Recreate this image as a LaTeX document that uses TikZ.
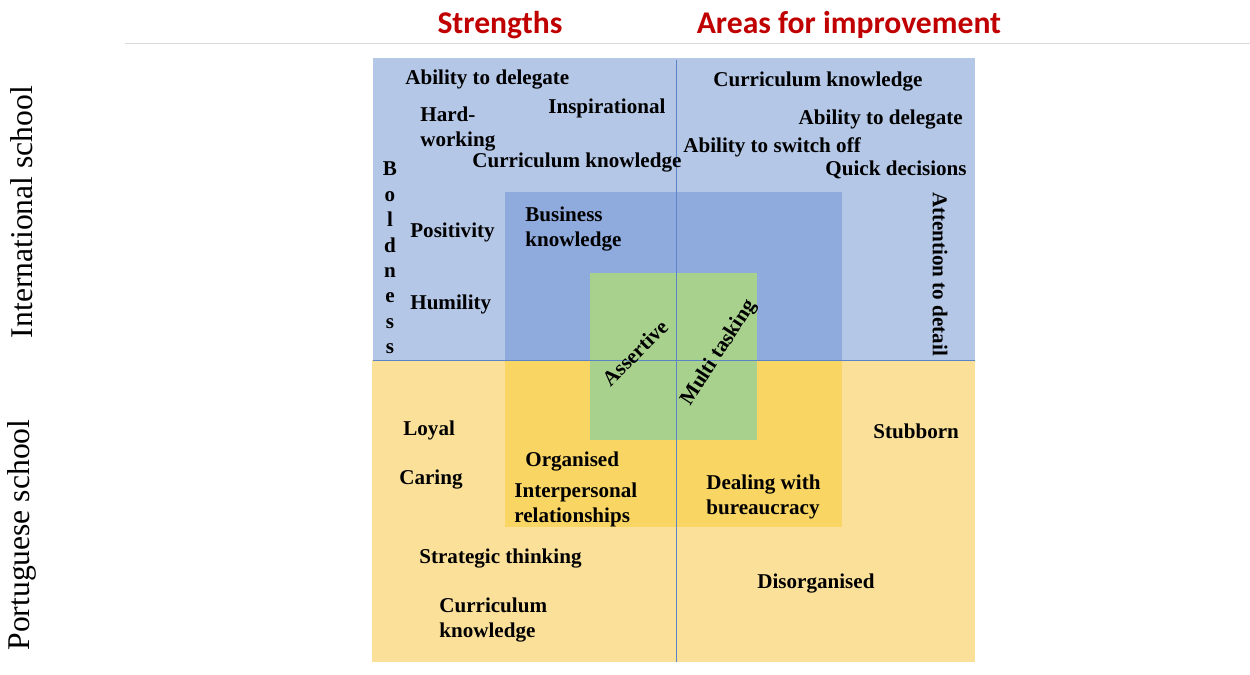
\documentclass[tikz,border=0pt]{standalone}
\usepackage{fontspec}
\setmainfont{Liberation Serif}
\newfontfamily\headfont{Carlito}
\definecolor{paleblue}{HTML}{B4C7E7}
\definecolor{midblue}{HTML}{8FAADC}
\definecolor{paleyellow}{HTML}{FBE09A}
\definecolor{midyellow}{HTML}{F9D664}
\definecolor{softgreen}{HTML}{A9D18E}
\definecolor{axisblue}{HTML}{5B84C8}
\definecolor{headred}{HTML}{C00000}

\begin{document}
\begin{tikzpicture}[x=0.02cm,y=-0.02cm,
    trait/.style={font=\bfseries\fontsize{12}{14.5}\selectfont, inner sep=0pt, anchor=west, align=left, yshift=-1.7pt},
    head/.style={font=\headfont\bfseries\fontsize{18}{20}\selectfont, text=headred, inner sep=0pt},
    side/.style={font=\fontsize{18}{20}\selectfont, rotate=90, inner sep=0pt}]
    \useasboundingbox (0,0) rectangle (1250,675);

    % headings and school labels
    \draw[gray!30] (125,43) -- (1250,43);
    \node[head] (strengths) at (500,25) {Strengths};
    \node[head] (areas) at (849,25) {Areas for improvement};
    \node[side] (intl) at (22,212) {International school};
    \node[side] (port) at (22,535) {Portuguese school};

    % quadrants
    \fill[paleblue] (373,58) rectangle (975,360);
    \fill[paleyellow] (372,360) rectangle (975,662);
    \fill[midblue] (505,192) rectangle (842,360);
    \fill[midyellow] (505,360) rectangle (842,527);
    \fill[softgreen] (590,273) rectangle (757,440);
    \draw[axisblue, thin] (676,60) -- (676,662);
    \draw[axisblue, thin] (373,360) -- (975,360);

    % international school, strengths
    \node[trait] (delegL) at (405,77) {Ability to delegate};
    \node[trait] (inspire) at (548,105) {Inspirational};
    \node[trait] (hard) at (420,126) {Hard-\\working};
    \node[trait] (currL) at (472,160) {Curriculum knowledge};
    \node[trait, anchor=center, align=center] (bold) at (390,255) {B\\o\\l\\d\\n\\e\\s\\s};
    \node[trait] (posit) at (410,229) {Positivity};
    \node[trait] (humil) at (410,301) {Humility};
    \node[trait] (business) at (525,226) {Business\\knowledge};

    % international school, areas for improvement
    \node[trait] (currR) at (713,79) {Curriculum knowledge};
    \node[trait, anchor=east] (delegR) at (963,117) {Ability to delegate};
    \node[trait] (switch) at (683,144) {Ability to switch off};
    \node[trait, anchor=east] (quick) at (967,167) {Quick decisions};
    \node[trait, anchor=center, rotate=-90] (detail) at (940,271) {Attention to detail};

    % shared
    \node[trait, anchor=center, rotate=45] (assert) at (635,350) {Assertive};
    \node[trait, anchor=center, rotate=57] (multi) at (719,350) {Multi tasking};

    % portuguese school, strengths
    \node[trait] (loyal) at (403,427) {Loyal};
    \node[trait] (caring) at (399,477) {Caring};
    \node[trait] (organ) at (525,459) {Organised};
    \node[trait] (inter) at (514,502) {Interpersonal\\relationships};
    \node[trait] (strat) at (419,556) {Strategic thinking};
    \node[trait] (currP) at (439,617) {Curriculum\\knowledge};

    % portuguese school, areas for improvement
    \node[trait] (stub) at (873,428) {Stubborn};
    \node[trait] (bureau) at (706,494) {Dealing with\\bureaucracy};
    \node[trait] (disorg) at (757,581) {Disorganised};
\end{tikzpicture}
\end{document}
